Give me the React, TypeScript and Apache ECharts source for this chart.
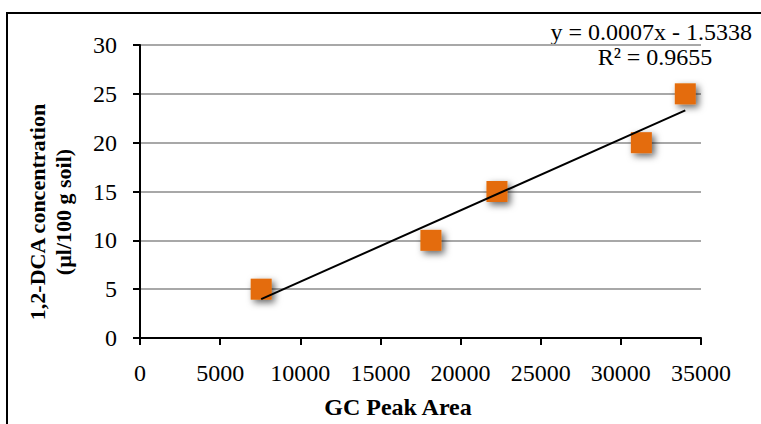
import React, { useEffect, useRef } from "react";
import * as echarts from "echarts";

// GC peak area vs. spiked 1,2-DCA concentration
const peakAreas = [7560, 18150, 22270, 31280, 34020];
const concentrations = [5, 10, 15, 20, 25];

// Linear trendline coefficients and fit quality
const trendSlope = 0.00073;
const trendIntercept = -1.5338;
const rSquared = 0.9655;

const xTicks = { min: 0, max: 35000, interval: 5000 };
const yTicks = { min: 0, max: 30, interval: 5 };

const FONT = "'Liberation Serif', 'Times New Roman', serif";

export default function App() {
  const ref = useRef<HTMLDivElement>(null);

  useEffect(() => {
    if (!ref.current) return;
    const chart = echarts.init(ref.current, undefined, { renderer: "svg" });

    const xStart = Math.min(...peakAreas);
    const xEnd = Math.max(...peakAreas);
    const trendData = [
      [xStart, trendSlope * xStart + trendIntercept],
      [xEnd, trendSlope * xEnd + trendIntercept],
    ];

    const eqText = `y = ${trendSlope.toFixed(4)}x - ${Math.abs(trendIntercept).toFixed(4)}`;
    const r2Text = `R² = ${rSquared.toFixed(4)}`;

    chart.setOption({
      animation: false,
      backgroundColor: "#ffffff",
      grid: { left: 140, right: 60, top: 45, bottom: 86, containLabel: false },
      xAxis: {
        type: "value",
        min: xTicks.min,
        max: xTicks.max,
        interval: xTicks.interval,
        axisLine: { show: true, onZero: false, lineStyle: { color: "#000", width: 2 } },
        axisTick: { show: true, inside: false, length: 7, lineStyle: { color: "#000", width: 2 } },
        axisLabel: {
          color: "#000",
          fontFamily: FONT,
          fontSize: 24,
          margin: 23,
          formatter: (v: number) => String(v),
        },
        splitLine: { show: false },
      },
      yAxis: {
        type: "value",
        min: yTicks.min,
        max: yTicks.max,
        interval: yTicks.interval,
        axisLine: { show: true, onZero: false, lineStyle: { color: "#000", width: 2 } },
        axisTick: { show: true, inside: false, length: 7, lineStyle: { color: "#000", width: 2 } },
        axisLabel: {
          color: "#000",
          fontFamily: FONT,
          fontSize: 24,
          margin: 23,
          formatter: (v: number) => String(v),
        },
        splitLine: { show: true, lineStyle: { color: "#a8a8a8", width: 2 } },
      },
      series: [
        {
          type: "scatter",
          data: peakAreas.map((x, i) => [x, concentrations[i]]),
          symbol: "rect",
          symbolSize: 21,
          z: 2,
          itemStyle: {
            color: "#E46C0A",
            opacity: 1,
            shadowBlur: 7,
            shadowColor: "rgba(0,0,0,0.6)",
            shadowOffsetX: 3,
            shadowOffsetY: 3,
          },
        },
        {
          type: "line",
          data: trendData,
          showSymbol: false,
          symbol: "none",
          z: 3,
          lineStyle: { color: "#000", width: 2 },
        },
      ],
      graphic: [
        {
          type: "rect",
          shape: { x: 7, y: 13, width: 800, height: 500 },
          style: { fill: "none", stroke: "#000", lineWidth: 2 },
          silent: true,
        },
        {
          type: "text",
          x: 752,
          y: 32,
          style: {
            text: eqText,
            fontFamily: FONT,
            fontSize: 24,
            fill: "#000",
            textAlign: "right",
            textVerticalAlign: "middle",
          },
        },
        {
          type: "text",
          x: 655,
          y: 57,
          style: {
            text: r2Text,
            fontFamily: FONT,
            fontSize: 24,
            fill: "#000",
            textAlign: "center",
            textVerticalAlign: "middle",
          },
        },
        {
          type: "text",
          x: 398,
          y: 407,
          style: {
            text: "GC Peak Area",
            fontFamily: FONT,
            fontSize: 24,
            fontWeight: "bold",
            fill: "#000",
            textAlign: "center",
            textVerticalAlign: "middle",
          },
        },
        {
          type: "text",
          x: 50,
          y: 212,
          rotation: Math.PI / 2,
          style: {
            text: "1,2-DCA concentration\n(µl/100 g soil)",
            fontFamily: FONT,
            fontSize: 22,
            fontWeight: "bold",
            lineHeight: 26,
            fill: "#000",
            textAlign: "center",
            textVerticalAlign: "middle",
          },
        },
      ],
    });

    return () => chart.dispose();
  }, []);

  return (
    <div
      ref={ref}
      style={{ position: "fixed", left: 0, top: 0, width: 761, height: 424, background: "#fff" }}
    />
  );
}
